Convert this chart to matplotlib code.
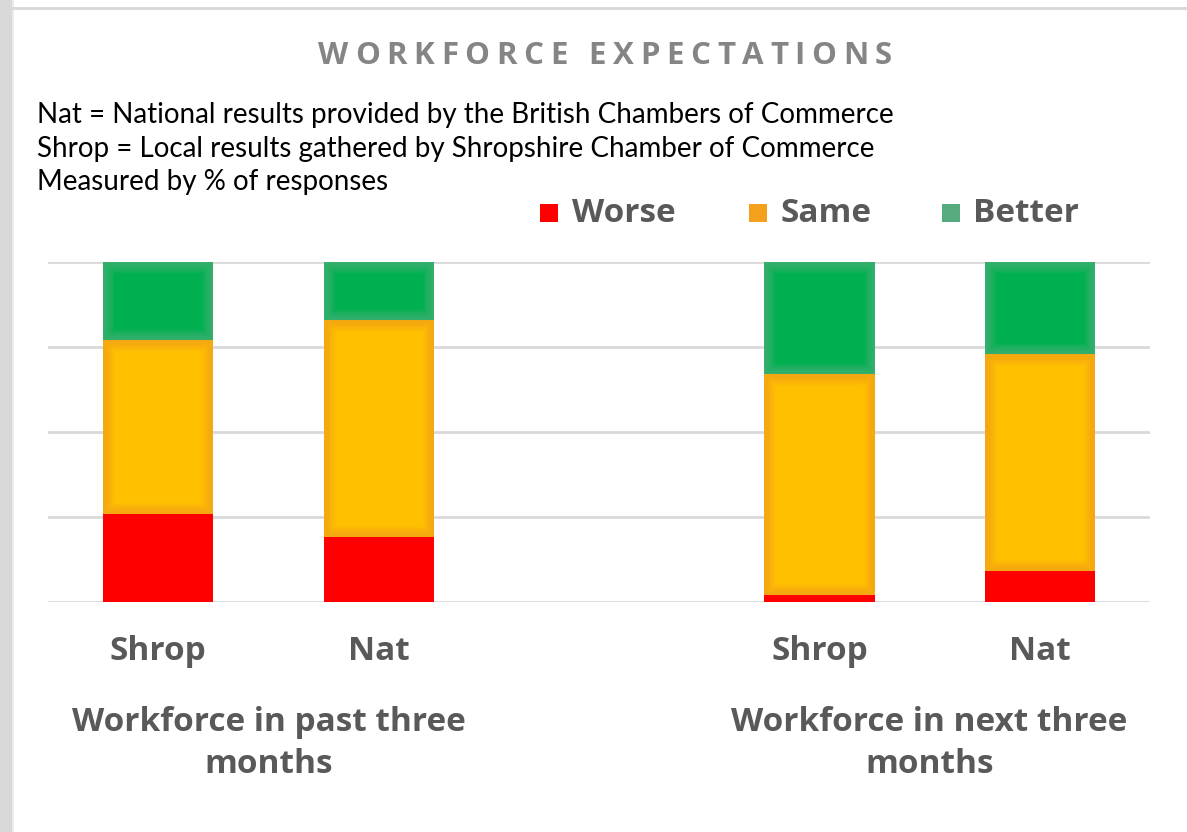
import matplotlib
matplotlib.use("Agg")
import matplotlib.pyplot as plt
from matplotlib.patches import Rectangle
from matplotlib.textpath import TextToPath
from matplotlib.font_manager import FontProperties
import numpy as np

# ---- data ----
categories = ["Shrop", "Nat", "Shrop", "Nat"]
groups = ["Workforce in past three\nmonths", "Workforce in next three\nmonths"]
worse = [26, 19, 2, 9]
same = [51, 64, 65, 64]
better = [23, 17, 33, 27]
series_names = ["Worse", "Same", "Better"]
notes = ["Nat = National results provided by the British Chambers of Commerce",
         "Shrop = Local results gathered by Shropshire Chamber of Commerce",
         "Measured by % of responses"]
title = "WORKFORCE EXPECTATIONS"

bar_colors = ["#FF0000", "#FFC000", "#00B050"]
edge_colors = [None, "#F5A21E", "#4FAF7E"]
legend_colors = ["#FF0000", "#F4A01C", "#55AA7E"]
text_gray = "#595959"

W, H = 1187, 832
fig = plt.figure(figsize=(W / 100, H / 100), dpi=100)
fig.patch.set_facecolor("white")

# frame decoration
fig.patches.append(Rectangle((0, 0), 12 / W, 1, transform=fig.transFigure,
                             facecolor="#D9D9D9", edgecolor="none", zorder=0))
fig.patches.append(Rectangle((12 / W, 0), 1.5 / W, 1, transform=fig.transFigure,
                             facecolor="#EBEBEB", edgecolor="none", zorder=0))
fig.patches.append(Rectangle((12 / W, 1 - 10 / H), 1, 3 / H, transform=fig.transFigure,
                             facecolor="#DADADA", edgecolor="none", zorder=0))

ax = fig.add_axes([48 / W, (H - 602) / H, (1150 - 48) / W, (602 - 262) / H])
ax.set_xlim(-0.5, 4.5)
ax.set_ylim(0, 100)
for s in ax.spines.values():
    s.set_visible(False)
ax.set_yticks([0, 25, 50, 75, 100])
ax.yaxis.grid(True, color="#D9D9D9", linewidth=2)
ax.set_axisbelow(True)
ax.tick_params(axis="y", left=False, labelleft=False)

xpos = np.array([0, 1, 3, 4])
bw = 0.5
bottom = np.zeros(4)
for name, vals, col, ec in zip(series_names, [worse, same, better], bar_colors, edge_colors):
    vals = np.array(vals, dtype=float)
    base = ax.bar(xpos, vals, bw, bottom=bottom, color=col, edgecolor="none", zorder=2)
    if ec is not None:
        # soft inner glow towards the edges, clipped to each bar
        n = 14
        for k in range(n):
            glow = ax.bar(xpos, vals, bw, bottom=bottom, facecolor="none", edgecolor=ec,
                          linewidth=1 + 1.15 * k, alpha=0.085, zorder=3)
            for gp, bp in zip(glow.patches, base.patches):
                gp.set_clip_path(bp)
    bottom += vals

ax.set_xticks(xpos)
ax.set_xticklabels(categories, fontsize=24, fontweight="bold", color=text_gray,
                   family="Open Sans")
ax.tick_params(axis="x", length=0, pad=24)

# group labels
for gi, g in enumerate(groups):
    cx = xpos[2 * gi:2 * gi + 2].mean()
    ax.text(cx, -30.5, g, transform=ax.transData,
            ha="center", va="top", fontsize=24, fontweight="bold", color=text_gray,
            family="Open Sans", linespacing=1.38)

# notes
for i, t in enumerate(notes):
    fig.text(37 / W, 1 - (115 + 33.5 * i) / H, t, ha="left", va="center",
             fontsize=20, color="black", family="Lato")

# title with letter spacing
fp = FontProperties(family="Open Sans", size=22.5, weight="bold")
ttp = TextToPath()
spacing = 6.6  # extra pixels between letters
x = 318.0
for ch in title:
    w, h, d = ttp.get_text_width_height_descent(ch, fp, ismath=False)
    w_px = w * 100 / 72
    fig.text(x / W, 1 - 56 / H, ch, ha="left", va="center", fontproperties=fp,
             color="#858585")
    x += w_px + spacing

# legend
leg_items = [(540, 572), (749, 781), (942, 973)]
for (sx, tx), name, col in zip(leg_items, series_names, legend_colors):
    fig.patches.append(Rectangle((sx / W, 1 - 222 / H), 18 / W, 18 / H,
                                 transform=fig.transFigure, facecolor=col,
                                 edgecolor="none"))
    fig.text(tx / W, 1 - 213 / H, name, ha="left", va="center", fontsize=24,
             fontweight="bold", color=text_gray, family="Open Sans")

fig.savefig("out.png", dpi=100, facecolor="white")
